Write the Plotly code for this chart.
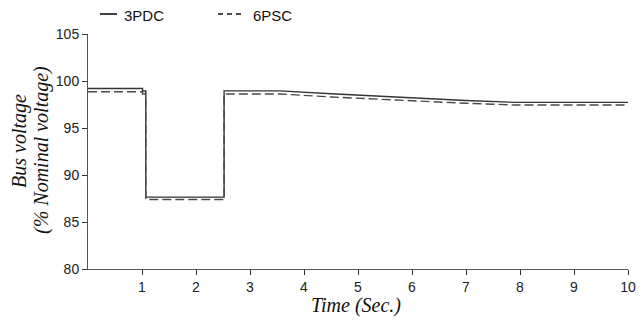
import plotly.graph_objects as go

# Data
t_3pdc = [0, 1.01, 1.01, 1.07, 1.07, 2.52, 2.52, 3.55, 4.5, 5.0, 6.0, 7.0, 7.9, 10]
v_3pdc = [99.2, 99.2, 98.94, 98.94, 87.65, 87.65, 98.95, 98.95, 98.65, 98.5, 98.18, 97.92, 97.73, 97.73]

t_6psc = [0, 1.01, 1.01, 1.07, 1.07, 2.52, 2.52, 3.55, 4.5, 5.0, 6.0, 7.0, 7.9, 10]
v_6psc = [98.86, 98.86, 98.62, 98.62, 87.4, 87.4, 98.62, 98.62, 98.3, 98.15, 97.87, 97.63, 97.45, 97.45]

x_ticks = [1, 2, 3, 4, 5, 6, 7, 8, 9, 10]
y_ticks = [80, 85, 90, 95, 100, 105]

# The page body adds an 8px offset; the figure is sized to fit the window.
OFF = 8
W, H = 644 - OFF, 320 - OFF
PL, PR, PT, PB = 88, 628, 34, 269  # plot area in window pixels
L = PL - OFF
R = W - (PR - OFF)
T = PT - OFF
B = H - (PB - OFF)
pw = PR - PL
ph = PB - PT


def px2x(px):
    return (px - PL) / pw


def py2y(py):
    return (PB - py) / ph


fig = go.Figure()
fig.add_trace(go.Scatter(x=t_3pdc, y=v_3pdc, mode="lines", name="3PDC",
                         line=dict(color="#353535", width=1.4), showlegend=False))
fig.add_trace(go.Scatter(x=t_6psc, y=v_6psc, mode="lines", name="6PSC",
                         line=dict(color="#4a4a4a", width=1.4, dash="9px,4px"), showlegend=False))

tickfont = dict(family="Liberation Sans, Arial, sans-serif", size=14, color="#222")

fig.update_layout(
    width=W, height=H,
    margin=dict(l=L, r=R, t=T, b=B, pad=0),
    paper_bgcolor="white", plot_bgcolor="white",
    xaxis=dict(range=[0, 10], tickvals=x_ticks, ticks="outside", ticklen=5, tickwidth=1,
               tickcolor="#333", showline=True, linecolor="#555", linewidth=1,
               showgrid=False, zeroline=False, tickfont=tickfont,
               automargin=False, ticklabeloverflow="allow"),
    yaxis=dict(range=[80, 105], tickvals=y_ticks, ticks="outside", ticklen=5, tickwidth=1,
               tickcolor="#333", showline=True, linecolor="#555", linewidth=1,
               showgrid=False, zeroline=False, tickfont=tickfont, automargin=False),
    showlegend=False,
)

serif_family = "Liberation Serif, Times New Roman, serif"

annotations = [
    dict(text="<i>Time (Sec.)</i>", x=px2x(356), y=py2y(305), xref="paper", yref="paper",
         xanchor="center", yanchor="middle", showarrow=False,
         font=dict(family=serif_family, size=20, color="#111")),
    dict(text="<i>Bus voltage</i>", x=px2x(19), y=py2y(141), xref="paper", yref="paper",
         xanchor="center", yanchor="middle", showarrow=False, textangle=-90,
         font=dict(family=serif_family, size=20, color="#111")),
    dict(text="<i>(% Nominal voltage)</i>", x=px2x(41), y=py2y(150), xref="paper", yref="paper",
         xanchor="center", yanchor="middle", showarrow=False, textangle=-90,
         font=dict(family=serif_family, size=20, color="#111")),
    dict(text="3PDC", x=px2x(122), y=py2y(15), xref="paper", yref="paper",
         xanchor="left", yanchor="middle", showarrow=False,
         font=dict(family="Liberation Sans, Arial, sans-serif", size=15, color="#111")),
    dict(text="6PSC", x=px2x(251), y=py2y(15), xref="paper", yref="paper",
         xanchor="left", yanchor="middle", showarrow=False,
         font=dict(family="Liberation Sans, Arial, sans-serif", size=15, color="#111")),
]
fig.update_layout(annotations=annotations)

fig.add_shape(type="line", xref="paper", yref="paper",
              x0=px2x(100), x1=px2x(117), y0=py2y(14), y1=py2y(14),
              line=dict(color="#111", width=1.6))
fig.add_shape(type="line", xref="paper", yref="paper",
              x0=px2x(218), x1=px2x(244), y0=py2y(14), y1=py2y(14),
              line=dict(color="#111", width=1.6, dash="5px,4px"))

fig.write_html("out.html")
